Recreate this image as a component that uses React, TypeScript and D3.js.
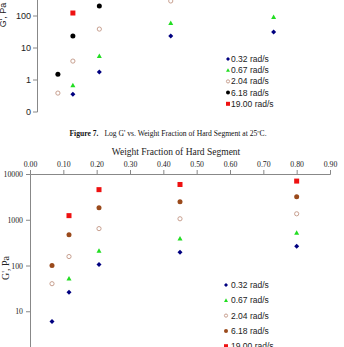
import * as d3 from 'd3';
import React, { useRef, useEffect } from 'react';

// weight fraction of hard segment
const fractions = [0.066, 0.117, 0.207, 0.45, 0.8];
const rateLabels = ['0.32 rad/s', '0.67 rad/s', '2.04 rad/s', '6.18 rad/s', '19.00 rad/s'];

// top figure (Figure 7, 25C), null = off the visible plot
const top032 = [null, 0.36, 1.78, 23.7, 31.6];
const top067 = [null, 0.69, 5.6, 60, 93];
const top204 = [0.39, 3.9, 39, 295, null];
const top618 = [1.5, 23.7, 205, null, null];
const top1900 = [null, 124, null, null, null];

// bottom figure
const bot032 = [6, 26, 105, 195, 265];
const bot067 = [null, 52, 210, 390, 520];
const bot204 = [40, 157, 640, 1050, 1350];
const bot618 = [100, 470, 1830, 2470, 3200];
const bot1900 = [null, 1230, 4550, 5900, 7000];

const topTicks = [0.1, 1, 10, 100];
const botYTicks = [10, 100, 1000, 10000];
const botXTicks = [0, 0.1, 0.2, 0.3, 0.4, 0.5, 0.6, 0.7, 0.8, 0.9];

const markers = ['diamond', 'triangle', 'open', 'circle', 'square'];

function drawMarker(g, kind, x, y, fill, size) {
  const s = size;
  if (kind === 'diamond') {
    const h = s / 2;
    g.append('path')
      .attr('d', `M${x},${y - h}L${x + h},${y}L${x},${y + h}L${x - h},${y}Z`)
      .attr('fill', fill);
  } else if (kind === 'triangle') {
    const h = s / 2;
    g.append('path')
      .attr('d', `M${x},${y - h}L${x + h},${y + h * 0.8}L${x - h},${y + h * 0.8}Z`)
      .attr('fill', fill);
  } else if (kind === 'open') {
    g.append('circle')
      .attr('cx', x).attr('cy', y).attr('r', s / 2 - 0.4)
      .attr('fill', 'white').attr('stroke', fill).attr('stroke-width', 1);
  } else if (kind === 'circle') {
    g.append('circle').attr('cx', x).attr('cy', y).attr('r', s / 2).attr('fill', fill);
  } else {
    g.append('rect')
      .attr('x', x - s / 2).attr('y', y - s / 2)
      .attr('width', s).attr('height', s).attr('fill', fill);
  }
}

function App() {
  const svgRef = useRef(null);

  useEffect(() => {
    const svg = d3.select(svgRef.current);
    svg.selectAll('*').remove();

    /* ---------- top chart ---------- */
    const topColors = ['#000080', '#22dd22', '#c8a090', '#000000', '#ee1111'];
    const tx = d3.scaleLinear().domain([0, 0.9]).range([38.5, 303]);
    const ty = d3.scaleLog().domain([0.1, 100]).range([112, 16]);

    const top = svg.append('g').attr('font-family', 'Arial, Liberation Sans, sans-serif');
    top.append('line')
      .attr('x1', 37.5).attr('x2', 37.5).attr('y1', -5).attr('y2', 112)
      .attr('stroke', '#888');
    topTicks.forEach((t) => {
      top.append('line')
        .attr('x1', 33).attr('x2', 37.5).attr('y1', ty(t)).attr('y2', ty(t))
        .attr('stroke', '#888');
      top.append('text')
        .attr('x', 31).attr('y', ty(t) + 3)
        .attr('text-anchor', 'end').attr('font-size', 9).attr('fill', '#222')
        .text(d3.format('.0f')(t));
    });
    top.append('text')
      .attr('transform', 'translate(6,15) rotate(-90)')
      .attr('text-anchor', 'middle').attr('font-size', 9).attr('fill', '#222')
      .text("G', Pa");

    const topSeries = [top032, top067, top204, top618, top1900];
    topSeries.forEach((vals, si) => {
      vals.forEach((v, i) => {
        if (v == null) return;
        drawMarker(top, markers[si], tx(fractions[i]), ty(v), topColors[si], 5);
      });
    });
    rateLabels.forEach((lab, i) => {
      const y = 59 + i * 11.2;
      drawMarker(top, markers[i], 228, y, topColors[i], 4);
      top.append('text')
        .attr('x', 231).attr('y', y + 3)
        .attr('font-size', 8.5).attr('fill', '#222')
        .text(lab);
    });

    /* ---------- caption ---------- */
    const cap = svg.append('text')
      .attr('x', 168).attr('y', 136)
      .attr('text-anchor', 'middle')
      .attr('font-family', 'Liberation Serif, serif')
      .attr('font-size', 7.6).attr('fill', '#111');
    cap.append('tspan').attr('font-weight', 'bold').text('Figure 7.');
    cap.append('tspan').attr('dx', 6).text("Log G' vs. Weight Fraction of Hard Segment at 25\u00baC.");

    /* ---------- bottom chart ---------- */
    const botColors = ['#000080', '#22dd22', '#c8a090', '#9a4a1c', '#ee1111'];
    const bx = d3.scaleLinear().domain([0, 0.9]).range([30, 330]);
    const by = d3.scaleLog().domain([1, 10000]).range([357, 174]);

    const bot = svg.append('g').attr('font-family', 'Liberation Serif, serif');
    bot.append('text')
      .attr('x', 176).attr('y', 155)
      .attr('text-anchor', 'middle').attr('font-size', 9.5).attr('fill', '#222')
      .text('Weight Fraction of Hard Segment');

    const xAxis = d3.axisTop(bx).tickValues(botXTicks).tickFormat(d3.format('.2f')).tickSize(4).tickPadding(3);
    const gx = bot.append('g').attr('transform', `translate(0,${by(10000)})`).call(xAxis);
    gx.attr('font-family', null).attr('font-size', null);
    gx.select('.domain').attr('stroke', '#888');
    gx.selectAll('.tick line').attr('stroke', '#888');
    gx.selectAll('text').attr('font-size', 7.8).attr('fill', '#222');

    const yAxis = d3.axisLeft(by).tickValues(botYTicks).tickFormat(d3.format('d')).tickSize(4).tickPadding(3);
    const gy = bot.append('g').attr('transform', `translate(${bx(0)},0)`).call(yAxis);
    gy.attr('font-family', null).attr('font-size', null);
    gy.select('.domain').attr('stroke', '#888');
    gy.selectAll('.tick line').attr('stroke', '#888');
    gy.selectAll('text').attr('font-size', 7.8).attr('fill', '#222');

    bot.append('text')
      .attr('transform', 'translate(9,268) rotate(-90)')
      .attr('text-anchor', 'middle').attr('font-size', 10).attr('fill', '#222')
      .text("G', Pa");

    const botSeries = [bot032, bot067, bot204, bot618, bot1900];
    botSeries.forEach((vals, si) => {
      vals.forEach((v, i) => {
        if (v == null) return;
        drawMarker(bot, markers[si], bx(fractions[i]), by(v), botColors[si], 5);
      });
    });
    rateLabels.forEach((lab, i) => {
      const y = 285 + i * 15.3;
      drawMarker(bot, markers[i], 226, y, botColors[i], 4);
      bot.append('text')
        .attr('x', 231).attr('y', y + 3)
        .attr('font-family', 'Arial, Liberation Sans, sans-serif')
        .attr('font-size', 8.5).attr('fill', '#222')
        .text(lab);
    });
  }, []);

  return (
    <svg
      ref={svgRef}
      width={344}
      height={347}
      style={{ position: 'absolute', left: 0, top: 0, background: 'white' }}
    ></svg>
  );
}

export default App;
